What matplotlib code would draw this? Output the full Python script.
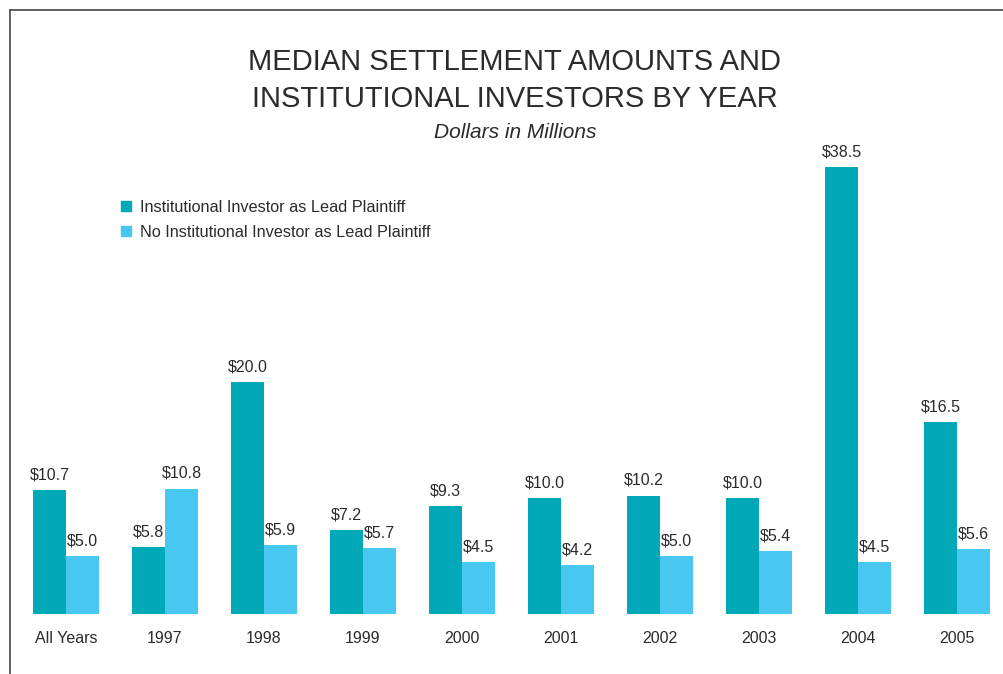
import matplotlib.pyplot as plt
from matplotlib.lines import Line2D
from matplotlib.patches import Rectangle

categories = ["All Years", "1997", "1998", "1999", "2000", "2001", "2002", "2003", "2004", "2005"]
institutional = [10.7, 5.8, 20.0, 7.2, 9.3, 10.0, 10.2, 10.0, 38.5, 16.5]
no_institutional = [5.0, 10.8, 5.9, 5.7, 4.5, 4.2, 5.0, 5.4, 4.5, 5.6]
series_names = ["Institutional Investor as Lead Plaintiff",
                "No Institutional Investor as Lead Plaintiff"]

dark = "#00A8B8"
light = "#48C7F0"
txt = "#2b2b2b"

plt.rcParams["font.family"] = ["Liberation Sans", "DejaVu Sans"]

W, H = 1004, 674
fig = plt.figure(figsize=(W / 100, H / 100), dpi=100)

# axes: full width, baseline at px 614, 38.5 at px 167
ax = fig.add_axes([0, (H - 614) / H, 1, (614 - 167) / H])
ax.set_xlim((0 - 66) / 99, (W - 66) / 99)
ax.set_ylim(0, 38.5)
ax.axis("off")

bw = 33 / 99
x = list(range(len(categories)))
b1 = ax.bar([i - bw / 2 for i in x], institutional, bw, color=dark)
b2 = ax.bar([i + bw / 2 for i in x], no_institutional, bw, color=light)

for bars, vals in ((b1, institutional), (b2, no_institutional)):
    for b, v in zip(bars, vals):
        ax.annotate(f"${v:.1f}", (b.get_x() + b.get_width() / 2, v),
                    xytext=(0, 5.5), textcoords="offset points",
                    ha="center", va="bottom", fontsize=11.5, color=txt)

for i, c in enumerate(categories):
    ax.annotate(c, (i, 0), xytext=(0, -12.5), textcoords="offset points",
                ha="center", va="top", fontsize=11.5, color=txt)

# titles
fig.text(515 / W, 1 - 62 / H, "MEDIAN SETTLEMENT AMOUNTS AND", ha="center", va="center",
         fontsize=21, color=txt)
fig.text(515 / W, 1 - 99 / H, "INSTITUTIONAL INVESTORS BY YEAR", ha="center", va="center",
         fontsize=21, color=txt)
fig.text(515 / W, 1 - 132 / H, "Dollars in Millions", ha="center", va="center",
         fontsize=15, style="italic", color=txt)

# legend
for k, (name, col) in enumerate(zip(series_names, [dark, light])):
    yc = 206 + 25 * k
    fig.patches.append(Rectangle((121 / W, 1 - (yc + 5) / H), 10 / W, 10 / H,
                                 transform=fig.transFigure, color=col))
    fig.text(140 / W, 1 - (yc + 1.5) / H, name, ha="left", va="center", fontsize=11.7, color=txt)

# frame lines (left and top)
fig.add_artist(Line2D([10.5 / W, 10.5 / W], [0, 1 - 9.5 / H], color="#555555", lw=1.3))
fig.add_artist(Line2D([10.5 / W, 1], [1 - 9.5 / H, 1 - 9.5 / H], color="#555555", lw=1.3))

fig.savefig("out.png", dpi=100)
